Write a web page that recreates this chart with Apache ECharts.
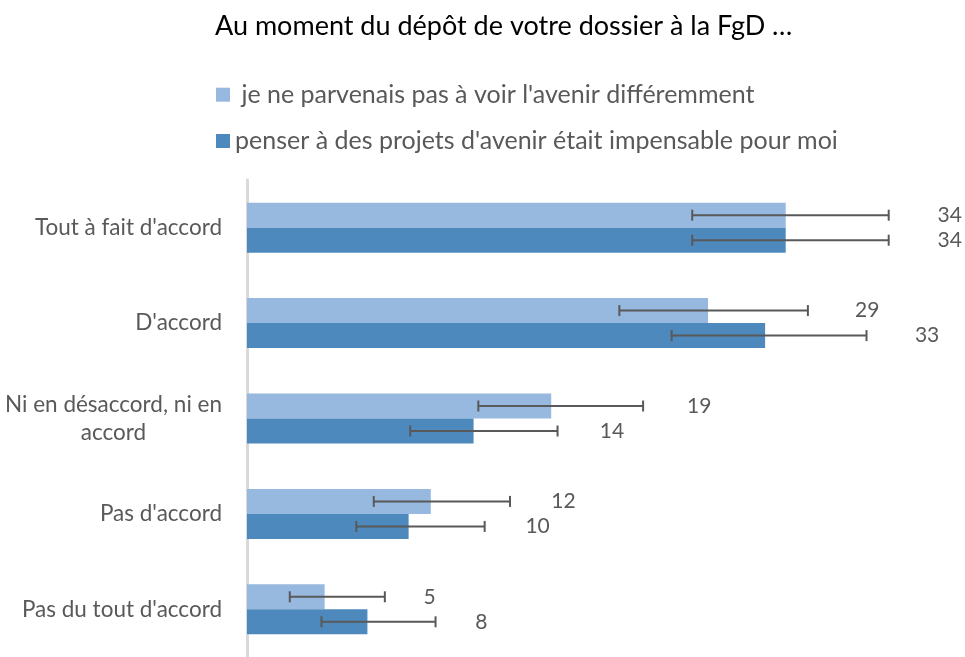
<!DOCTYPE html>
<html><head><meta charset="utf-8">
<script src="https://cdn.jsdelivr.net/npm/echarts@6/dist/echarts.min.js"></script>
<style>html,body{margin:0;padding:0;background:#fff}#c{width:965px;height:657px}</style>
</head><body><div id="c"></div>
<script>
const titleText = "Au moment du dépôt de votre dossier à la FgD …";
const categories = ["Tout à fait d'accord", "D'accord", "Ni en désaccord, ni en\naccord", "Pas d'accord", "Pas du tout d'accord"];
const seriesNames = [" je ne parvenais pas à voir l'avenir différemment", "penser à des projets d'avenir était impensable pour moi"];
const valuesA = [34.0, 29.1, 19.2, 11.6, 4.9];
const lowA    = [28.1, 23.5, 14.6, 8.0, 2.7];
const highA   = [40.5, 35.4, 25.0, 16.6, 8.7];
const labelsA = ["34", "29", "19", "12", "5"];
const valuesB = [34.0, 32.7, 14.3, 10.2, 7.6];
const lowB    = [28.1, 26.8, 10.3, 6.9, 4.7];
const highB   = [40.5, 39.1, 19.6, 15.0, 11.9];
const labelsB = ["34", "33", "14", "10", "8"];

const FONT = 'Lato';
const AX_FS = 22.5, LEG_FS = 25, TITLE_FS = 27, LAB_FS = 21;
const colA = '#97B9E0', colB = '#4E89BD';

// width of the widest line of a multi-line category label, to centre its lines
const cv = document.createElement('canvas').getContext('2d');
cv.font = AX_FS + 'px ' + FONT;
let maxLineW = 0;
categories.forEach(c => { const ls = c.split('\n'); if (ls.length > 1) ls.forEach(l => { maxLineW = Math.max(maxLineW, cv.measureText(l).width); }); });

function errSeries(name, vals, lows, highs, labels, sign) {
  return {
    type: 'custom', name: name + '_err', z: 5, silent: true,
    data: vals.map((v, i) => [i, lows[i], highs[i]]),
    encode: { x: [1, 2], y: 0 },
    renderItem(params, api) {
      const cat = api.value(0);
      const lo = api.coord([api.value(1), cat]);
      const hi = api.coord([api.value(2), cat]);
      const x0 = api.coord([0, cat])[0];
      const y = lo[1] + sign * 12.5;
      const cap = 5.5;
      const st = { stroke: '#595959', lineWidth: 2 };
      const tx = hi[0] + 36 + 0.02 * (hi[0] - x0);
      return { type: 'group', children: [
        { type: 'line', shape: { x1: lo[0], y1: y, x2: hi[0], y2: y }, style: st },
        { type: 'line', shape: { x1: lo[0], y1: y - cap, x2: lo[0], y2: y + cap }, style: st },
        { type: 'line', shape: { x1: hi[0], y1: y - cap, x2: hi[0], y2: y + cap }, style: st },
        { type: 'text', x: tx, y: y, style: { text: labels[params.dataIndex], fill: '#595959', font: LAB_FS + 'px ' + FONT, align: 'left', verticalAlign: 'middle' } }
      ]};
    }
  };
}

const legendBase = { orient: 'vertical', padding: 0, itemWidth: 14, itemHeight: 14, icon: 'rect',
  textStyle: { fontFamily: FONT, fontSize: LEG_FS, color: '#595959', lineHeight: 28 } };

const chart = echarts.init(document.getElementById('c'), null, { renderer: 'canvas' });
chart.setOption({
  animation: false,
  backgroundColor: '#fff',
  title: { text: titleText, left: 215, top: 12.5, padding: 0, textStyle: { fontFamily: FONT, fontSize: TITLE_FS, fontWeight: 'normal', color: '#000' } },
  legend: [
    Object.assign({ data: [seriesNames[0]], left: 216, top: 80.7 }, legendBase),
    Object.assign({ data: [seriesNames[1]], left: 216, top: 127 }, legendBase)
  ],
  grid: { left: 247, top: 180, width: 713, height: 483.5, containLabel: false },
  xAxis: { type: 'value', min: 0, max: 45, show: false },
  yAxis: {
    type: 'category', data: categories, inverse: true, offset: 1,
    axisLine: { show: true, lineStyle: { color: '#D9D9D9', width: 3 } },
    axisTick: { show: false }, splitLine: { show: false },
    axisLabel: { margin: 24, color: '#595959', fontFamily: FONT, fontSize: AX_FS,
      formatter: v => { const ls = v.split('\n'); return ls.length > 1 ? ls.map(s => '{m|' + s + '}').join('\n') : '{c|' + v + '}'; },
      rich: {
        c: { fontFamily: FONT, fontSize: AX_FS, color: '#595959', lineHeight: 28 },
        m: { fontFamily: FONT, fontSize: AX_FS, color: '#595959', lineHeight: 28, width: Math.ceil(maxLineW), align: 'center' }
      } }
  },
  series: [
    { type: 'bar', name: seriesNames[0], data: valuesA, barWidth: 25, barGap: '0%', itemStyle: { color: colA } },
    { type: 'bar', name: seriesNames[1], data: valuesB, barWidth: 25, barGap: '0%', itemStyle: { color: colB } },
    errSeries('a', valuesA, lowA, highA, labelsA, -1),
    errSeries('b', valuesB, lowB, highB, labelsB, 1)
  ]
});
</script></body></html>
